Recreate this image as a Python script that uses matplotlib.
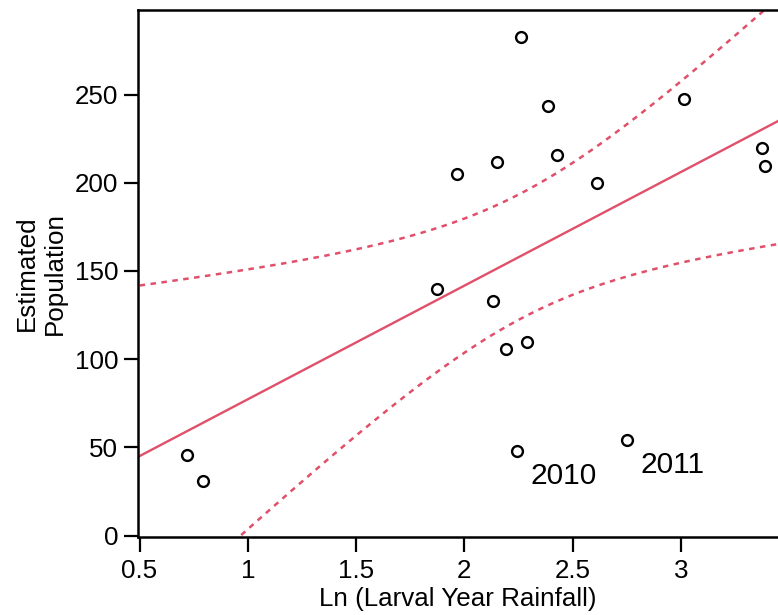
import numpy as np
import matplotlib
matplotlib.use("Agg")
import matplotlib.pyplot as plt

# Ln of larval year rainfall vs estimated population
ln_rain = [0.719, 0.793, 1.873, 1.966, 2.132, 2.150, 2.191, 2.241, 2.263,
           2.288, 2.385, 2.426, 2.611, 2.749, 3.015, 3.375, 3.386]
population = [45.6, 30.9, 139.7, 204.9, 132.9, 211.7, 105.9, 48.1, 282.6,
              109.9, 243.5, 215.7, 199.7, 54.0, 247.4, 219.9, 209.7]

# labelled points
labels = ["2010", "2011"]
label_x = [2.241, 2.749]
label_y = [48.1, 54.0]

x_ticks = [0.5, 1, 1.5, 2, 2.5, 3]
x_tick_labels = ["0.5", "1", "1.5", "2", "2.5", "3"]
y_ticks = [0, 50, 100, 150, 200, 250]

plt.rcParams['font.family'] = ['Liberation Sans', 'DejaVu Sans']

x = np.array(ln_rain)
y = np.array(population)
n = len(x)

# least squares fit and 95% confidence band of the mean
slope, intercept = np.polyfit(x, y, 1)
resid = y - (slope * x + intercept)
s = np.sqrt(np.sum(resid ** 2) / (n - 2))
sxx = np.sum((x - x.mean()) ** 2)
t_crit = 2.131  # t(0.975, 15)

xs = np.linspace(0.4, 3.5, 300)
fit = slope * xs + intercept
half = t_crit * s * np.sqrt(1.0 / n + (xs - x.mean()) ** 2 / sxx)

red = '#E0506A'

fig = plt.figure(figsize=(7.78, 6.15), dpi=100)
ax = fig.add_axes([0.177, 0.1268, 0.823, 0.8569])

ax.plot(xs, fit, color=red, lw=1.7)
ax.plot(xs, fit + half, color=red, lw=1.8, linestyle=(0, (2.2, 2.2)))
ax.plot(xs, fit - half, color=red, lw=1.8, linestyle=(0, (2.2, 2.2)))
ax.plot(x, y, 'o', mfc='white', mec='black', mew=1.7, ms=7.8, zorder=3)

for lab, lx, ly in zip(labels, label_x, label_y):
    ax.annotate(lab, (lx, ly), xytext=(10, -8), textcoords='offset points',
                fontsize=21.5, va='top', ha='left')

ax.set_xlim(0.4917, 3.448)
ax.set_ylim(-0.85, 297.9)
ax.set_xticks(x_ticks)
ax.set_xticklabels(x_tick_labels)
ax.set_yticks(y_ticks)

ax.spines['right'].set_visible(False)
for sp in ['left', 'top', 'bottom']:
    ax.spines[sp].set_linewidth(1.8)

ax.tick_params(axis='x', length=11, width=1.6, pad=5, labelsize=18.7)
ax.tick_params(axis='y', length=10, width=1.6, pad=4, labelsize=18.7)

ax.set_xlabel("Ln (Larval Year Rainfall)", fontsize=18.7, labelpad=2.5)
ax.set_ylabel("Estimated\nPopulation", fontsize=18.7, labelpad=6,
              linespacing=1.2)

fig.savefig("out.png", dpi=100)
